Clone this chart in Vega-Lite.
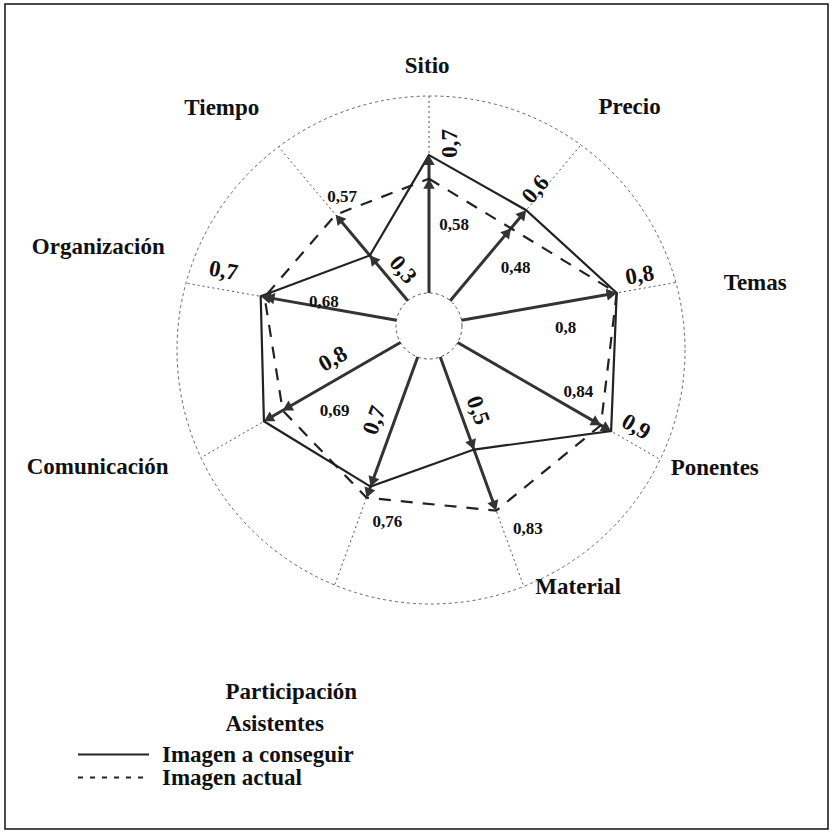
{
  "$schema": "https://vega.github.io/schema/vega-lite/v6.json",
  "width": 823,
  "height": 825,
  "autosize": "none",
  "padding": {"left": 5, "top": 4, "right": 4, "bottom": 6},
  "background": "white",
  "config": {
    "view": {"stroke": "#111", "strokeWidth": 1.5},
    "font": "Liberation Serif"
  },
  "data": {
    "values": [
      {"eje": "Sitio", "conseguir": 0.7, "actual": 0.58},
      {"eje": "Precio", "conseguir": 0.6, "actual": 0.48},
      {"eje": "Temas", "conseguir": 0.8, "actual": 0.8},
      {"eje": "Ponentes", "conseguir": 0.9, "actual": 0.84},
      {"eje": "Material", "conseguir": 0.5, "actual": 0.83},
      {"eje": "Participación Asistentes", "conseguir": 0.7, "actual": 0.76},
      {"eje": "Comunicación", "conseguir": 0.8, "actual": 0.69},
      {"eje": "Organización", "conseguir": 0.7, "actual": 0.68},
      {"eje": "Tiempo", "conseguir": 0.3, "actual": 0.57}
    ]
  },
  "transform": [
    {"window": [{"op": "row_number", "as": "rn"}]},
    {"calculate": "datum.rn - 1", "as": "i"},
    {"calculate": "datum.i * 40", "as": "deg"},
    {"calculate": "datum.deg * PI / 180", "as": "th"}
  ],
  "encoding": {
    "x": {"field": "px", "type": "quantitative", "scale": {"domain": [-424, 399], "nice": false, "zero": false}, "axis": null},
    "y": {"field": "py", "type": "quantitative", "scale": {"domain": [-503, 322], "nice": false, "zero": false}, "axis": null}
  },
  "layer": [
    {
      "transform": [
        {"filter": "datum.i == 0"},
        {"calculate": "2", "as": "px"},
        {"calculate": "-24", "as": "py"}
      ],
      "mark": {"type": "point", "shape": "circle", "size": 258064, "filled": false, "stroke": "#666", "strokeWidth": 1, "strokeDash": [3, 3], "opacity": 1}
    },
    {
      "transform": [
        {"calculate": "2 * sin(datum.th) - 24 * cos(datum.th)", "as": "uc"},
        {"calculate": "datum.uc + sqrt(datum.uc * datum.uc - 580 + 254 * 254)", "as": "tr"},
        {"calculate": "33 * sin(datum.th)", "as": "px"},
        {"calculate": "33 * cos(datum.th)", "as": "py"},
        {"calculate": "datum.tr * sin(datum.th)", "as": "px2"},
        {"calculate": "datum.tr * cos(datum.th)", "as": "py2"}
      ],
      "mark": {"type": "rule", "stroke": "#555", "strokeWidth": 1, "strokeDash": [2, 3]},
      "encoding": {
        "x2": {"field": "px2"},
        "y2": {"field": "py2"}
      }
    },
    {
      "transform": [
        {"filter": "datum.i == 0"},
        {"calculate": "0", "as": "px"},
        {"calculate": "0", "as": "py"}
      ],
      "mark": {"type": "point", "shape": "circle", "size": 4356, "filled": true, "fill": "white", "stroke": "#555", "strokeWidth": 1, "strokeDash": [3, 3], "opacity": 1}
    },
    {
      "transform": [
        {"calculate": "33 + 197 * max(datum.conseguir, datum.actual) - 6", "as": "rm"},
        {"calculate": "33 * sin(datum.th)", "as": "px"},
        {"calculate": "33 * cos(datum.th)", "as": "py"},
        {"calculate": "datum.rm * sin(datum.th)", "as": "px2"},
        {"calculate": "datum.rm * cos(datum.th)", "as": "py2"}
      ],
      "mark": {"type": "rule", "stroke": "#333", "strokeWidth": 3},
      "encoding": {
        "x2": {"field": "px2"},
        "y2": {"field": "py2"}
      }
    },
    {
      "transform": [
        {"calculate": "33 + 197 * datum.conseguir", "as": "r"},
        {"calculate": "datum.r * sin(datum.th)", "as": "px"},
        {"calculate": "datum.r * cos(datum.th)", "as": "py"},
        {"calculate": "'Imagen a conseguir'", "as": "ley1"}
      ],
      "mark": {"type": "line", "interpolate": "linear-closed", "strokeWidth": 2.2},
      "encoding": {
        "order": {"field": "i", "type": "quantitative"},
        "color": {
          "field": "ley1", "type": "nominal",
          "scale": {"range": ["#222"]},
          "legend": {
            "title": null, "orient": "none", "legendX": 72, "legendY": 714,
            "symbolType": "stroke", "symbolSize": 5041, "symbolStrokeWidth": 2,
            "labelFont": "Liberation Serif", "labelFontWeight": "bold", "labelFontSize": 23,
            "labelColor": "#111", "labelOffset": 12, "padding": 0, "labelLimit": 400
          }
        }
      }
    },
    {
      "transform": [
        {"calculate": "33 + 197 * datum.actual", "as": "r"},
        {"calculate": "datum.r * sin(datum.th)", "as": "px"},
        {"calculate": "datum.r * cos(datum.th)", "as": "py"},
        {"calculate": "'Imagen actual'", "as": "ley2"}
      ],
      "mark": {"type": "line", "interpolate": "linear-closed", "strokeWidth": 2.2, "strokeDash": [12, 10]},
      "encoding": {
        "order": {"field": "i", "type": "quantitative"},
        "color": {
          "field": "ley2", "type": "nominal",
          "scale": {"range": ["#222"]},
          "legend": {
            "title": null, "orient": "none", "legendX": 72, "legendY": 737,
            "symbolType": "stroke", "symbolSize": 5041, "symbolStrokeWidth": 2, "symbolDash": [5, 7],
            "labelFont": "Liberation Serif", "labelFontWeight": "bold", "labelFontSize": 23,
            "labelColor": "#111", "labelOffset": 12, "padding": 0, "labelLimit": 400
          }
        }
      }
    },
    {
      "transform": [
        {"fold": ["conseguir", "actual"], "as": ["serie", "v"]},
        {"calculate": "33 + 197 * datum.v - 5", "as": "r"},
        {"calculate": "datum.r * sin(datum.th)", "as": "px"},
        {"calculate": "datum.r * cos(datum.th)", "as": "py"}
      ],
      "mark": {"type": "point", "shape": "triangle-up", "size": 130, "filled": true, "fill": "#333", "strokeWidth": 0, "opacity": 1},
      "encoding": {
        "angle": {"field": "deg", "type": "quantitative", "scale": null}
      }
    },
    {
      "transform": [
        {"calculate": "33 + 197 * datum.conseguir + [13, 22, 26, 20, -34, -62, -89, 42, -30][datum.i]", "as": "lr"},
        {"calculate": "datum.th + [6.6, -2, -3.5, -4, -10, 10, 11, 5, 15][datum.i] * PI / 180", "as": "lt"},
        {"calculate": "datum.lr * sin(datum.lt)", "as": "px"},
        {"calculate": "datum.lr * cos(datum.lt)", "as": "py"},
        {"calculate": "datum.deg > 180 ? datum.deg - 270 : datum.deg - 90", "as": "ta"},
        {"calculate": "replace(format(datum.conseguir, '.2~f'), '.', ',')", "as": "txt"}
      ],
      "mark": {"type": "text", "font": "Liberation Serif", "fontWeight": "bold", "fontSize": 23, "color": "#111", "align": "center", "baseline": "middle"},
      "encoding": {
        "text": {"field": "txt", "type": "nominal"},
        "angle": {"field": "ta", "type": "quantitative", "scale": null}
      }
    },
    {
      "transform": [
        {"calculate": "33 + 197 * datum.actual + [-43, -23, -54, -35, 29, 18, -42, -59, 10][datum.i]", "as": "lr"},
        {"calculate": "datum.th + [14, 16, 11, -6, -6, -8, -12, 3, 6][datum.i] * PI / 180", "as": "lt"},
        {"calculate": "datum.lr * sin(datum.lt)", "as": "px"},
        {"calculate": "datum.lr * cos(datum.lt)", "as": "py"},
        {"calculate": "replace(format(datum.actual, '.2~f'), '.', ',')", "as": "txt"}
      ],
      "mark": {"type": "text", "font": "Liberation Serif", "fontWeight": "bold", "fontSize": 17, "color": "#111", "align": "center", "baseline": "middle"},
      "encoding": {
        "text": {"field": "txt", "type": "nominal"}
      }
    },
    {
      "transform": [
        {"filter": "datum.i != 5"},
        {"calculate": "255 + [5, 42, 74, 64, 46, 0, 105, 85, 46][datum.i]", "as": "lr"},
        {"calculate": "datum.th + [-0.4, 2.5, 2.5, -3.6, -9.7, 0, 7, 3.4, -3.5][datum.i] * PI / 180", "as": "lt"},
        {"calculate": "datum.lr * sin(datum.lt)", "as": "px"},
        {"calculate": "datum.lr * cos(datum.lt)", "as": "py"}
      ],
      "mark": {"type": "text", "font": "Liberation Serif", "fontWeight": "bold", "fontSize": 23, "color": "#111", "align": "center", "baseline": "middle"},
      "encoding": {
        "text": {"field": "eje", "type": "nominal"}
      }
    },
    {
      "transform": [
        {"filter": "datum.i == 5"},
        {"calculate": "255 + 170", "as": "lr"},
        {"calculate": "datum.th + 8.6 * PI / 180", "as": "lt"},
        {"calculate": "datum.lr * sin(datum.lt)", "as": "px"},
        {"calculate": "datum.lr * cos(datum.lt)", "as": "py"},
        {"calculate": "split(datum.eje, ' ')", "as": "lineas"}
      ],
      "mark": {"type": "text", "font": "Liberation Serif", "fontWeight": "bold", "fontSize": 23, "color": "#111", "align": "left", "baseline": "alphabetic", "lineHeight": 32},
      "encoding": {
        "text": {"field": "lineas", "type": "nominal"}
      }
    }
  ],
  "resolve": {"scale": {"color": "independent"}}
}
